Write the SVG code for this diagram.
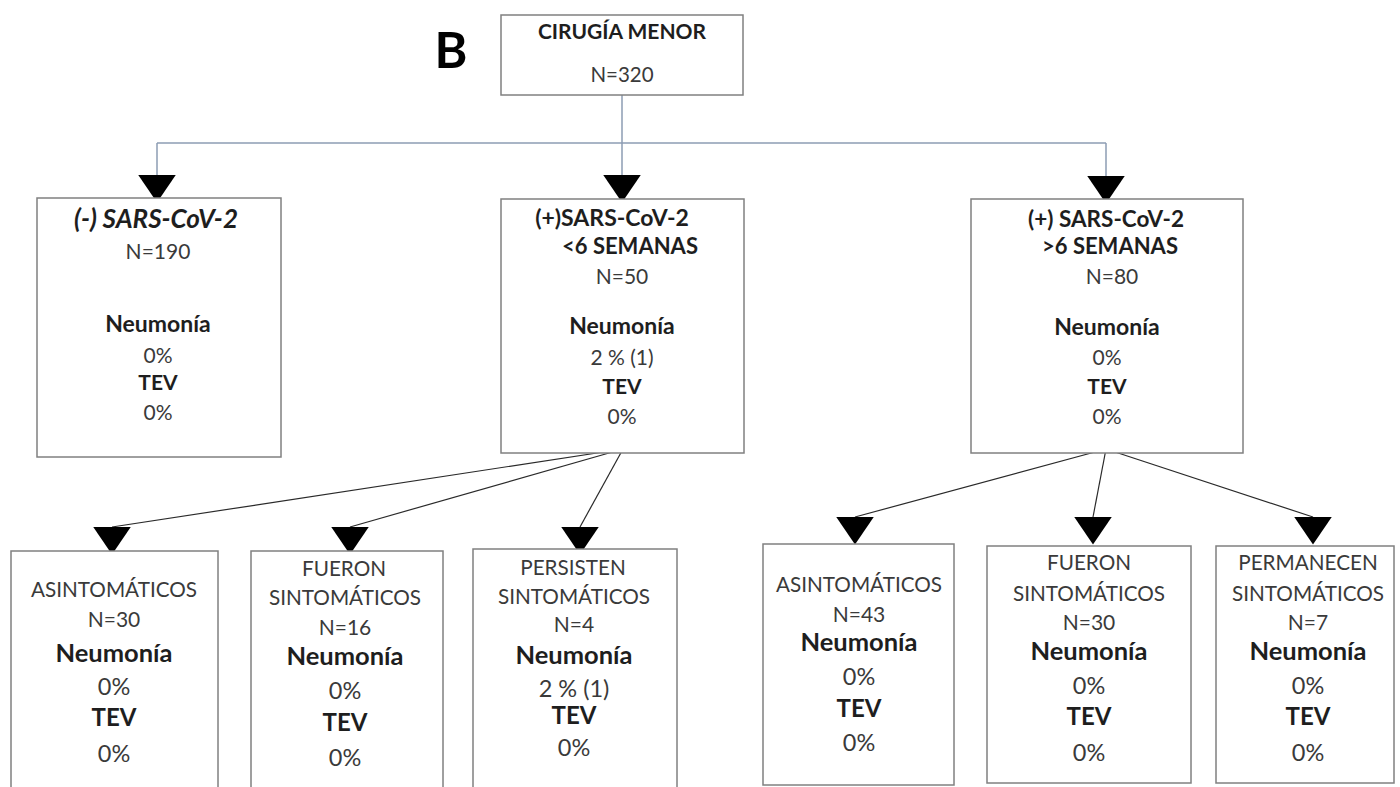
<svg xmlns="http://www.w3.org/2000/svg" width="1400" height="787" viewBox="0 0 1400 787">
<defs>
<style>
.box{fill:#ffffff;stroke:#808080;stroke-width:1.5}
.t{font-family:Lato,"Open Sans","Liberation Sans",sans-serif;text-anchor:middle;fill:#3a3a3a;font-size:21px}
.b{font-weight:bold;fill:#1e1e1e}
.i{font-style:italic}
.h{font-size:23px}
.u{font-size:20.7px}
.N{font-size:25.5px}
.P{font-size:23.5px}
.T{font-size:24px}
.top{stroke:#8d9db3;stroke-width:1.5;fill:none}
.fan{stroke:#2a2a2a;stroke-width:1.2;fill:none}
</style>
<marker id="tri" markerUnits="userSpaceOnUse" markerWidth="40" markerHeight="40" refX="0" refY="0" orient="90" viewBox="-1 -16 25 32">
<path d="M0,-15 L22,0 L0,15 z" fill="#000"/>
</marker>
</defs>
<rect width="1400" height="787" fill="#ffffff"/>
<text x="451" y="68" font-family="Lato,'Liberation Sans',sans-serif" font-weight="bold" font-size="50" fill="#000" text-anchor="middle">B</text>

<g id="connectors">
<line class="top" x1="622" y1="95" x2="622" y2="175" marker-end="url(#tri)"/>
<line class="top" x1="157" y1="143" x2="1106" y2="143"/>
<line class="top" x1="157" y1="143" x2="157" y2="175" marker-end="url(#tri)"/>
<line class="top" x1="1106" y1="143" x2="1106" y2="176" marker-end="url(#tri)"/>
<line class="fan" x1="623" y1="449" x2="112" y2="527" marker-end="url(#tri)"/>
<line class="fan" x1="623" y1="449" x2="350" y2="527" marker-end="url(#tri)"/>
<line class="fan" x1="623" y1="449" x2="580" y2="527" marker-end="url(#tri)"/>
<line class="fan" x1="1106" y1="449" x2="855" y2="517" marker-end="url(#tri)"/>
<line class="fan" x1="1106" y1="449" x2="1093" y2="517" marker-end="url(#tri)"/>
<line class="fan" x1="1106" y1="449" x2="1313" y2="517" marker-end="url(#tri)"/>
</g>

<g id="n-top">
<rect class="box" x="501" y="15" width="242" height="80"/>
<text class="t b" x="622" y="39">CIRUGÍA MENOR</text>
<text class="t" x="622" y="82" style="font-size:20.5px">N=320</text>
</g>

<g id="n-neg">
<rect class="box" x="37" y="198" width="244" height="259"/>
<text class="t b i" x="156" y="228" style="font-size:26px">(-) SARS-CoV-2</text>
<text class="t" x="158" y="259">N=190</text>
<text class="t b h" x="158" y="332">Neumonía</text>
<text class="t" x="158" y="363">0%</text>
<text class="t b" x="158" y="390">TEV</text>
<text class="t" x="158" y="420">0%</text>
</g>

<g id="n-pos-lt6">
<rect class="box" x="501" y="199" width="243" height="254"/>
<text class="t b" x="612" y="226" style="font-size:23px">(+)SARS-CoV-2</text>
<text class="t b" x="630" y="254" style="font-size:22px">&lt;6 SEMANAS</text>
<text class="t" x="622" y="284">N=50</text>
<text class="t b h" x="622" y="334">Neumonía</text>
<text class="t" x="622" y="365">2 % (1)</text>
<text class="t b" x="622" y="394">TEV</text>
<text class="t" x="622" y="424">0%</text>
</g>

<g id="n-pos-gt6">
<rect class="box" x="971" y="199" width="272" height="254"/>
<text class="t b" x="1106" y="227" style="font-size:22.5px">(+) SARS-CoV-2</text>
<text class="t b" x="1110" y="254" style="font-size:22px">&gt;6 SEMANAS</text>
<text class="t" x="1112" y="284">N=80</text>
<text class="t b h" x="1107" y="335">Neumonía</text>
<text class="t" x="1107" y="365">0%</text>
<text class="t b" x="1107" y="394">TEV</text>
<text class="t" x="1107" y="424">0%</text>
</g>

<g id="n-lt6-asint">
<rect class="box" x="11" y="551" width="207" height="260"/>
<text class="t u" x="114" y="597">ASINTOMÁTICOS</text>
<text class="t" x="114" y="627">N=30</text>
<text class="t b N" x="114" y="662">Neumonía</text>
<text class="t P" x="114" y="695">0%</text>
<text class="t b T" x="114" y="726">TEV</text>
<text class="t P" x="114" y="762">0%</text>
</g>

<g id="n-lt6-fueron">
<rect class="box" x="251" y="551" width="192" height="260"/>
<text class="t u" x="344" y="576">FUERON</text>
<text class="t u" x="345" y="605">SINTOMÁTICOS</text>
<text class="t" x="345" y="635">N=16</text>
<text class="t b N" x="345" y="665">Neumonía</text>
<text class="t P" x="345" y="699">0%</text>
<text class="t b T" x="345" y="731">TEV</text>
<text class="t P" x="345" y="766">0%</text>
</g>

<g id="n-lt6-persisten">
<rect class="box" x="473" y="549" width="204" height="260"/>
<text class="t u" x="573" y="575">PERSISTEN</text>
<text class="t u" x="574" y="604">SINTOMÁTICOS</text>
<text class="t" x="574" y="632">N=4</text>
<text class="t b N" x="574" y="664">Neumonía</text>
<text class="t P" x="574" y="697">2 % (1)</text>
<text class="t b T" x="574" y="724">TEV</text>
<text class="t P" x="574" y="756">0%</text>
</g>

<g id="n-gt6-asint">
<rect class="box" x="763" y="544" width="191" height="241"/>
<text class="t u" x="859" y="592">ASINTOMÁTICOS</text>
<text class="t" x="859" y="622">N=43</text>
<text class="t b N" x="859" y="651">Neumonía</text>
<text class="t P" x="859" y="685">0%</text>
<text class="t b T" x="859" y="717">TEV</text>
<text class="t P" x="859" y="751">0%</text>
</g>

<g id="n-gt6-fueron">
<rect class="box" x="987" y="546" width="204" height="237"/>
<text class="t u" x="1089" y="570">FUERON</text>
<text class="t u" x="1089" y="601">SINTOMÁTICOS</text>
<text class="t" x="1089" y="630">N=30</text>
<text class="t b N" x="1089" y="660">Neumonía</text>
<text class="t P" x="1089" y="694">0%</text>
<text class="t b T" x="1089" y="725">TEV</text>
<text class="t P" x="1089" y="761">0%</text>
</g>

<g id="n-gt6-permanecen">
<rect class="box" x="1216" y="546" width="178" height="237"/>
<text class="t u" x="1308" y="570">PERMANECEN</text>
<text class="t u" x="1308" y="601">SINTOMÁTICOS</text>
<text class="t" x="1308" y="630">N=7</text>
<text class="t b N" x="1308" y="660">Neumonía</text>
<text class="t P" x="1308" y="694">0%</text>
<text class="t b T" x="1308" y="725">TEV</text>
<text class="t P" x="1308" y="761">0%</text>
</g>
</svg>
